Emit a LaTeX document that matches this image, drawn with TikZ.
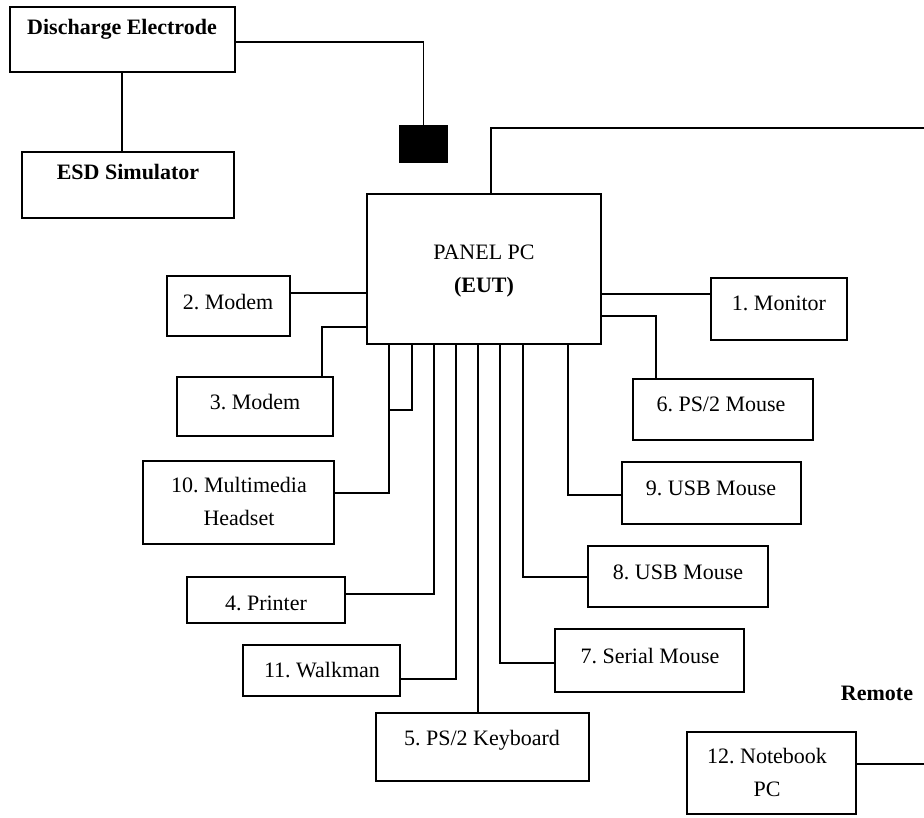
\documentclass[tikz,border=0pt]{standalone}
\usepackage{fontspec}
\setmainfont{Liberation Serif}
\frenchspacing
\begin{document}
\begin{tikzpicture}[x=1pt,y=-1pt,
  box/.style={draw, line width=1.3pt, inner sep=0pt, rectangle},
  lbl/.style={inner sep=0pt, font=\fontsize{22}{33}\selectfont, align=center, text height=15pt, text depth=5pt},
  blbl/.style={lbl, font=\fontsize{22}{33}\selectfont\bfseries},
  wire/.style={line width=1.3pt}]
\fill[white] (0,0) rectangle (924,817);
\useasboundingbox (0,0) rectangle (924,817);
% boxes
\node[box, minimum width=225pt, minimum height=65pt] (de) at (122.5,39.5) {};
\node[box, minimum width=212pt, minimum height=66pt] (esd) at (128,185) {};
\node[box, fill=black, minimum width=47pt, minimum height=36pt] (blk) at (423.5,144) {};
\node[box, minimum width=234pt, minimum height=150pt] (panel) at (484,269) {};
\node[box, minimum width=123pt, minimum height=60pt] (m2) at (228.5,306) {};
\node[box, minimum width=156pt, minimum height=59pt] (m3) at (255,406.5) {};
\node[box, minimum width=191pt, minimum height=83pt] (mm) at (238.5,502.5) {};
\node[box, minimum width=158pt, minimum height=46pt] (pr) at (266,600) {};
\node[box, minimum width=157pt, minimum height=51pt] (wk) at (321.5,670.5) {};
\node[box, minimum width=213pt, minimum height=68pt] (kb) at (482.5,747) {};
\node[box, minimum width=136pt, minimum height=62pt] (mon) at (779,309) {};
\node[box, minimum width=180pt, minimum height=61pt] (ps) at (723,409.5) {};
\node[box, minimum width=179pt, minimum height=62pt] (usbn) at (711.5,493) {};
\node[box, minimum width=180pt, minimum height=61pt] (usbe) at (678,576.5) {};
\node[box, minimum width=189pt, minimum height=63pt] (ser) at (649.5,660.5) {};
\node[box, minimum width=169pt, minimum height=82pt] (nb) at (771.5,773) {};
% labels
\node[blbl] (de-t) at (122,29) {Discharge Electrode};
\node[blbl] (esd-t) at (128,174) {ESD Simulator};
\node[lbl] (panel-t) at (484,287) {PANEL PC\\\textbf{(EUT)}};
\node[lbl] (m2-t) at (228,304) {2. Modem};
\node[lbl] (m3-t) at (255,404) {3. Modem};
\node[lbl] (mm-t) at (239,520) {10. Multimedia\\Headset};
\node[lbl] (pr-t) at (266,605) {4. Printer};
\node[lbl] (wk-t) at (322,672) {11. Walkman};
\node[lbl] (kb-t) at (482,740) {5. PS/2 Keyboard};
\node[lbl] (mon-t) at (779,305) {1. Monitor};
\node[lbl] (ps-t) at (721,406) {6. PS/2 Mouse};
\node[lbl] (usbn-t) at (711,490) {9. USB Mouse};
\node[lbl] (usbe-t) at (678,574) {8. USB Mouse};
\node[lbl] (ser-t) at (650,658) {7. Serial Mouse};
\node[lbl] (nb-t) at (767,791) {12. Notebook\\PC};
\node[blbl] (remote) at (877,695) {Remote};
% free ends
\coordinate (rtop) at (924,128);
\coordinate (rbot) at (924,764);
% connectors
\draw[wire] (de.east |- 0,42) -| (blk.north);
\draw[wire] (de.south -| 122,0) -- (esd.north -| 122,0);
\draw[wire] (panel.north -| 491,0) |- (rtop);
\draw[wire] (nb.east |- rbot) -- (rbot);
\draw[wire] (m2.east |- 0,293) -- (panel.west |- 0,293);
\draw[wire] (m3.north -| 322,0) |- (panel.west |- 0,327);
\draw[wire] (panel.south -| 389,0) |- (mm.east |- 0,493);
\draw[wire] (panel.south -| 412,0) |- (389,410);
\draw[wire] (panel.south -| 434,0) |- (pr.east |- 0,594);
\draw[wire] (panel.south -| 456,0) |- (wk.east |- 0,679);
\draw[wire] (panel.south -| 478,0) -- (kb.north -| 478,0);
\draw[wire] (panel.south -| 500,0) |- (ser.west |- 0,663);
\draw[wire] (panel.south -| 523,0) |- (usbe.west |- 0,577);
\draw[wire] (panel.south -| 568,0) |- (usbn.west |- 0,495);
\draw[wire] (panel.east |- 0,294) -- (mon.west |- 0,294);
\draw[wire] (panel.east |- 0,316) -| (ps.north -| 656,0);
\end{tikzpicture}
\end{document}
